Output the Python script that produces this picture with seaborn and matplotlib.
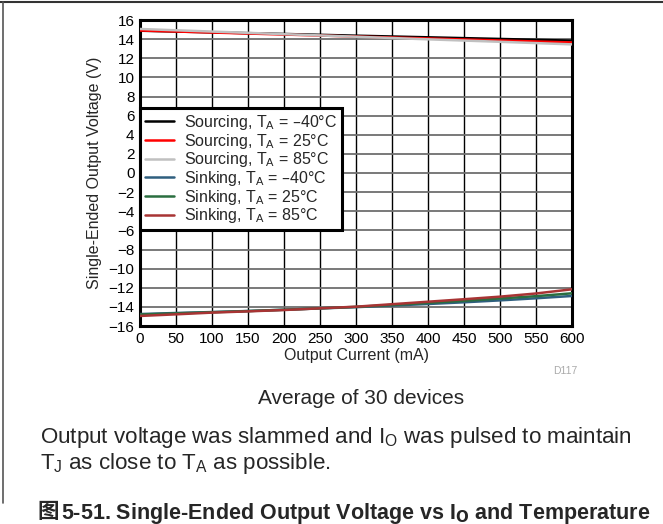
import numpy as np
import pandas as pd
import seaborn as sns
import matplotlib.pyplot as plt

# output current (mA)
current_src = [0, 100, 200, 300, 400, 500, 600]
current_snk = [0, 50, 100, 150, 200, 250, 300, 350, 400, 450, 500, 550, 600]

# sourcing curves (V)
src_m40 = [14.88, 14.71, 14.54, 14.36, 14.19, 14.02, 13.84]
src_25 = [14.90, 14.69, 14.48, 14.27, 14.07, 13.86, 13.65]
src_85 = [15.06, 14.79, 14.52, 14.25, 13.98, 13.72, 13.45]

# sinking curves (V)
snk_m40 = [-14.75, -14.64, -14.54, -14.43, -14.30, -14.16, -14.03, -13.86, -13.70, -13.52, -13.32, -13.10, -12.86]
snk_25 = [-14.80, -14.68, -14.56, -14.44, -14.30, -14.15, -14.00, -13.80, -13.58, -13.37, -13.12, -12.88, -12.58]
snk_85 = [-14.95, -14.78, -14.60, -14.47, -14.33, -14.15, -13.98, -13.72, -13.46, -13.20, -12.93, -12.60, -12.16]

labels = ["Sourcing, T$_\\mathregular{A}$ = \u201340\u00b0C",
          "Sourcing, T$_\\mathregular{A}$ = 25\u00b0C",
          "Sourcing, T$_\\mathregular{A}$ = 85\u00b0C",
          "Sinking, T$_\\mathregular{A}$ = \u201340\u00b0C",
          "Sinking, T$_\\mathregular{A}$ = 25\u00b0C",
          "Sinking, T$_\\mathregular{A}$ = 85\u00b0C"]
colors = ["#000000", "#ff0000", "#c0c0c0", "#2f5f7f", "#2a6e40", "#a83434"]

series = [src_m40, src_25, src_85, snk_m40, snk_25, snk_85]
xs = [current_src] * 3 + [current_snk] * 3
frames = []
for lab, x, y in zip(labels, xs, series):
    frames.append(pd.DataFrame({"I": x, "V": y, "curve": lab}))
df = pd.concat(frames, ignore_index=True)

sns.set_theme(style="white")
plt.rcParams['font.family'] = ['Liberation Sans', 'Noto Sans CJK SC']
plt.rcParams['mathtext.default'] = 'regular'

fig = plt.figure(figsize=(6.63, 5.24), dpi=100)
ax = fig.add_axes([140 / 663, 1 - 326 / 524, 432 / 663, 306 / 524])

sns.lineplot(data=df, x="I", y="V", hue="curve", hue_order=labels,
             palette=dict(zip(labels, colors)), linewidth=1.8, ax=ax,
             sort=False, zorder=3)

ax.set_xlim(0, 600)
ax.set_ylim(-16, 16)
ax.set_xticks(np.arange(0, 601, 50))
ax.set_yticks(np.arange(-16, 17, 2))
ax.xaxis.grid(True, color="black", linewidth=1.0)
ax.yaxis.grid(True, color="#6e6e6e", linewidth=1.3)
ax.set_axisbelow(True)
ax.tick_params(length=0, labelsize=11, colors="black", pad=4)
for s in ax.spines.values():
    s.set_color("black")
    s.set_linewidth(2.2)
ax.set_xlabel("Output Current (mA)", fontsize=11.5, labelpad=2)
ax.set_ylabel("Single-Ended Output Voltage (V)", fontsize=11.5, labelpad=5)

leg = ax.legend(loc="upper left", bbox_to_anchor=(0, 0.712), borderaxespad=0,
                fontsize=11.5, frameon=True, fancybox=False, handlelength=1.85,
                labelspacing=-0.02, borderpad=0.3, handletextpad=0.6)
leg.get_frame().set_edgecolor("black")
leg.get_frame().set_linewidth(2.2)
leg.get_frame().set_alpha(1)
leg.set_zorder(5)

fig.text(565 / 663, 1 - 371 / 524, "D117", fontsize=7.5, color="#aaaaaa",
         ha="center", va="center")
fig.text(361 / 663, 1 - 398 / 524, "Average of 30 devices", fontsize=15,
         ha="center", va="center")
fig.text(40 / 663, 1 - 437 / 524,
         "Output voltage was slammed and I$_O$ was pulsed to maintain",
         fontsize=16.1, ha="left", va="center")
fig.text(40 / 663, 1 - 463 / 524, "T$_J$ as close to T$_A$ as possible.",
         fontsize=16.1, ha="left", va="center")
fig.text(37 / 663, 1 - 512 / 524, "\u56fe", fontsize=15.5, fontweight="bold",
         family=["Noto Sans CJK SC", "DejaVu Sans"], ha="left", va="center")
fig.text(61 / 663, 1 - 513 / 524,
         "5-51. Single-Ended Output Voltage vs I$_\\mathbf{O}$ and Temperature",
         fontsize=15.5, fontweight="bold", ha="left", va="center")

# outer frame lines (top and left)
fig.add_artist(plt.Line2D([0, 1], [1 - 2 / 524, 1 - 2 / 524], color="#333333", linewidth=1.5))
fig.add_artist(plt.Line2D([3 / 663, 3 / 663], [1 - 2 / 524, 1 - 503 / 524], color="#555555", linewidth=1.2))

fig.savefig("out.png", dpi=100)
